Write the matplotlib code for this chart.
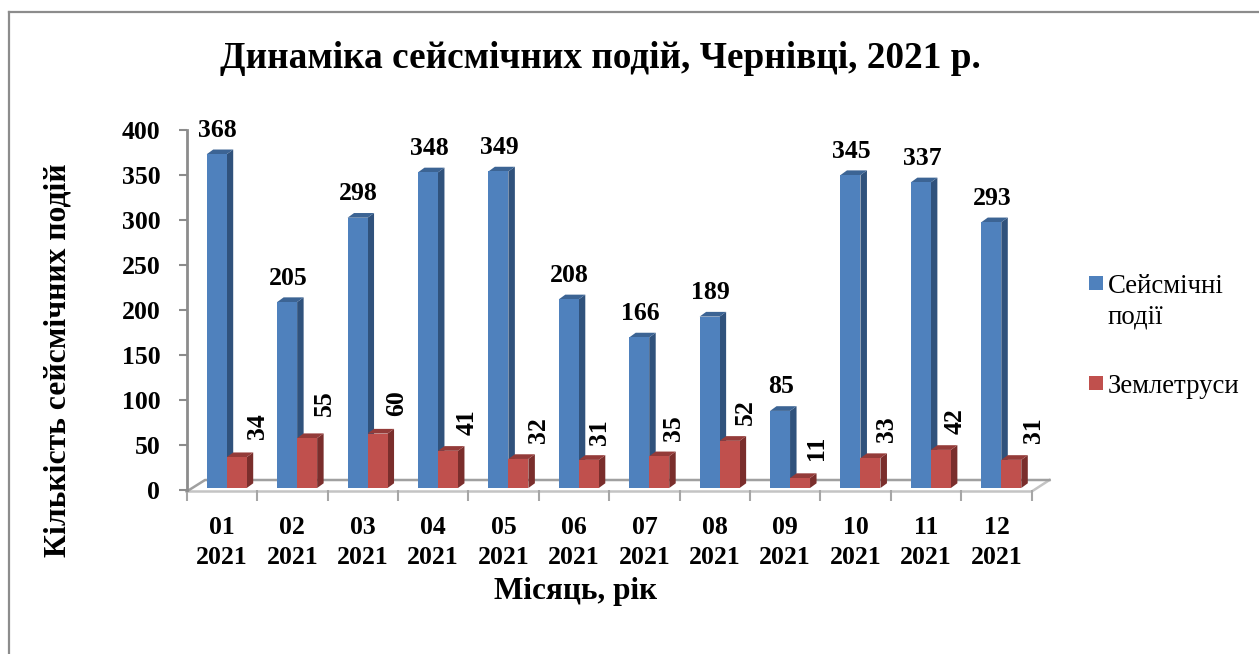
import numpy as np
import matplotlib
matplotlib.use("Agg")
import matplotlib.pyplot as plt
from matplotlib.lines import Line2D
from matplotlib.patches import Rectangle

plt.rcParams['font.family'] = ['Liberation Serif', 'DejaVu Serif']

months = ["01\n2021", "02\n2021", "03\n2021", "04\n2021", "05\n2021", "06\n2021",
          "07\n2021", "08\n2021", "09\n2021", "10\n2021", "11\n2021", "12\n2021"]
events = [368, 205, 298, 348, 349, 208, 166, 189, 85, 345, 337, 293]
quakes = [34, 55, 60, 41, 32, 31, 35, 52, 11, 33, 42, 31]
yticks = [0, 50, 100, 150, 200, 250, 300, 350, 400]
legend_labels = ["Сейсмічні\nподії", "Землетруси"]

# hand placed offsets of the rotated labels, in pixels from the bar top
quake_dx = [21, 17, 19.5, 19, 20, 11, 14, 16, 16, 16, 14, 22]
quake_dy = [31, 35, 30, 29, 29, 28, 28, 29, 30, 29, 29, 30]

W, H = 1259, 654
fig = plt.figure(figsize=(W / 100, H / 100), dpi=100)

# pixel helpers, y measured from the top of the picture
def axes_rect(x0, x1, y_top, y_bottom):
    return [x0 / W, 1 - y_bottom / H, (x1 - x0) / W, (y_bottom - y_top) / H]

x_left, x_right = 186.7, 1031.7
axis_top, axis_bottom = 130, 490

# axes for the ticks and labels
ax = fig.add_axes(axes_rect(x_left, x_right, axis_top, axis_bottom))
ax.set_xlim(-0.5, 11.5)
ax.set_ylim(0, 400)
ax.patch.set_alpha(0)
for s in ["top", "right", "bottom"]:
    ax.spines[s].set_visible(False)
ax.spines["left"].set_color("#8c8c8c")
ax.spines["left"].set_linewidth(2)
ax.set_yticks(yticks)
ax.set_yticklabels([str(v) for v in yticks], fontsize=18.5, fontweight="bold")
ax.tick_params(axis="y", length=6, width=1.5, color="#8c8c8c", pad=13)
ax.set_xticks(np.arange(-0.5, 12, 1), minor=True)
ax.tick_params(axis="x", which="minor", length=8, width=1.5, color="#a6a6a6")
ax.set_xticks(range(12))
ax.set_xticklabels(months, fontsize=18.5, fontweight="bold", linespacing=1.34)
ax.tick_params(axis="x", which="major", length=0, pad=19)

# bars use a slightly different vertical scale, they stand inside the floor
bar_ax = fig.add_axes(axes_rect(x_left, x_right, 488 - 400 * 0.907, 488), sharex=ax)
bar_ax.set_ylim(0, 400)
bar_ax.axis("off")

px_x = 12 / (x_right - x_left)
px_y = 400 / (400 * 0.907)
bar_w = 20 * px_x
shift = 4.8 * px_x
depth_x, depth_y = 6.5 * px_x, 4.7 * px_y


def bars3d(xs, vals, front, side, top):
    bar_ax.bar(xs, vals, bar_w, color=front, linewidth=0, zorder=3)
    for x, v in zip(xs, vals):
        r = x + bar_w / 2
        l = x - bar_w / 2
        bar_ax.fill([r, r + depth_x, r + depth_x, r],
                    [0, depth_y, v + depth_y, v], color=side, lw=0, zorder=2)
        bar_ax.fill([l, r, r + depth_x, l + depth_x],
                    [v, v, v + depth_y, v + depth_y], color=top, lw=0, zorder=2)


pos = np.arange(12)
bars3d(pos + shift - bar_w / 2, events, "#4F81BD", "#30527C", "#3C6494")
bars3d(pos + shift + bar_w / 2, quakes, "#C0504D", "#7A2E2C", "#943B39")

# floor lines, behind the axes so the bars cover them
def floor_line(xs, ys, color):
    fig.add_artist(Line2D(np.array(xs) / W, 1 - np.array(ys) / H, zorder=-1,
                          transform=fig.transFigure, color=color, lw=1.8))

floor_line([186.7, 1031.7, 1049.5], [491.5, 491.5, 480], "#c4c4c4")
floor_line([186.7, 205, 1049.5], [491.5, 480, 480], "#a0a0a0")

for x, v in zip(pos + shift - bar_w / 2, events):
    bar_ax.annotate(str(v), (x, v), xytext=(1, 24), textcoords="offset pixels",
                    ha="center", va="center", fontsize=18.5, fontweight="bold", zorder=5)
for x, v, dx, dy in zip(pos + shift + bar_w / 2, quakes, quake_dx, quake_dy):
    bar_ax.annotate(str(v), (x, v), xytext=(dx, dy), textcoords="offset pixels",
                    ha="center", va="center", rotation=90, fontsize=18.5,
                    fontweight="bold", zorder=5)

fig.text(600 / W, 1 - 58 / H, "Динаміка сейсмічних подій, Чернівці, 2021 р.",
         ha="center", va="center", fontsize=26.8, fontweight="bold")
fig.text(58 / W, 1 - 360 / H, "Кількість сейсмічних подій", rotation=90,
         ha="center", va="center", fontsize=22.8, fontweight="bold")
fig.text(576 / W, 1 - 592 / H, "Місяць, рік", ha="center", va="center",
         fontsize=22.5, fontweight="bold")

# legend drawn by hand, its marker sits on the first line of a wrapped label
for label, color, top in zip(legend_labels, ["#4F81BD", "#C0504D"], [276, 376]):
    fig.add_artist(Rectangle((1089 / W, 1 - (top + 14) / H), 14 / W, 14 / H,
                             transform=fig.transFigure, color=color, lw=0))
    fig.text(1108 / W, 1 - (top - 2) / H, label, ha="left", va="top",
             fontsize=19.3, linespacing=1.285)

# outer frame of the picture
frame = dict(transform=fig.transFigure, color="#8c8c8c", lw=1.6)
fig.add_artist(Line2D([8.5 / W, 8.5 / W], [0, 1 - 12 / H], **frame))
fig.add_artist(Line2D([8.5 / W, 1], [1 - 12 / H, 1 - 12 / H], **frame))

fig.savefig("out.png", dpi=100)
